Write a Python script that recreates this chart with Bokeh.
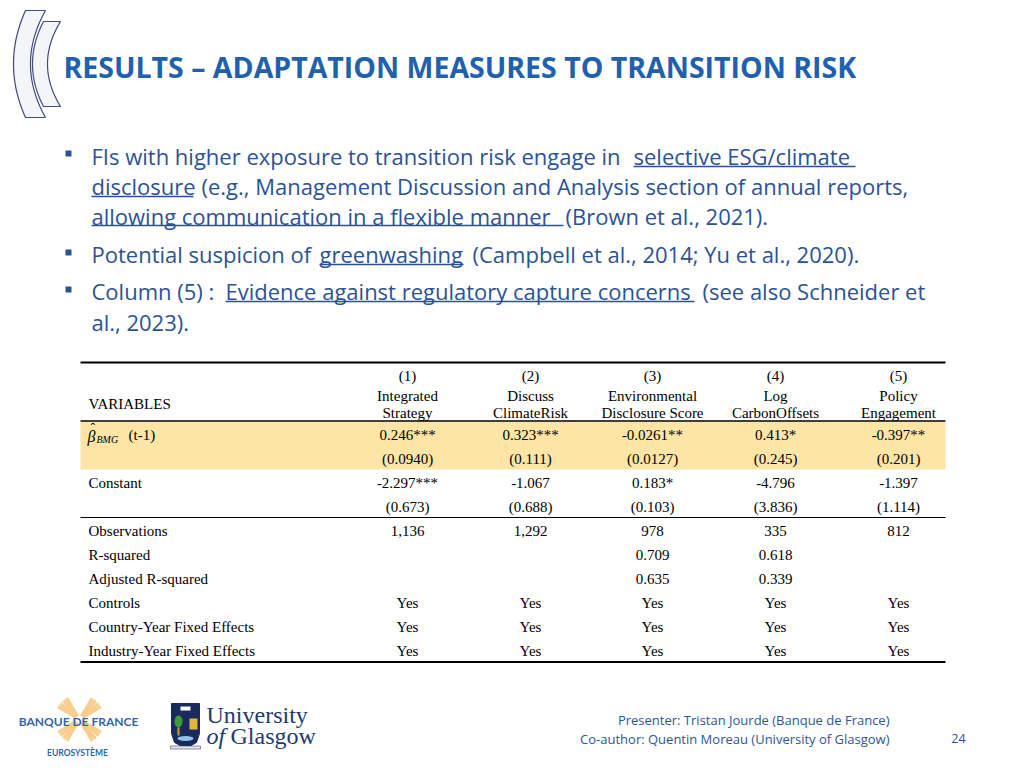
import numpy as np
from bokeh.plotting import figure
from bokeh.models import Range1d
from bokeh.core.properties import value
from bokeh.embed import file_html
from bokeh.resources import INLINE

# ---------------- data ----------------
col_numbers = ["(1)", "(2)", "(3)", "(4)", "(5)"]
col_title_1 = ["Integrated", "Discuss", "Environmental", "Log", "Policy"]
col_title_2 = ["Strategy", "ClimateRisk", "Disclosure Score", "CarbonOffsets", "Engagement"]
beta_coef = ["0.246***", "0.323***", "-0.0261**", "0.413*", "-0.397**"]
beta_se = ["(0.0940)", "(0.111)", "(0.0127)", "(0.245)", "(0.201)"]
const_coef = ["-2.297***", "-1.067", "0.183*", "-4.796", "-1.397"]
const_se = ["(0.673)", "(0.688)", "(0.103)", "(3.836)", "(1.114)"]
observations = ["1,136", "1,292", "978", "335", "812"]
r_squared = ["", "", "0.709", "0.618", ""]
adj_r_squared = ["", "", "0.635", "0.339", ""]
controls = ["Yes", "Yes", "Yes", "Yes", "Yes"]
country_fe = ["Yes", "Yes", "Yes", "Yes", "Yes"]
industry_fe = ["Yes", "Yes", "Yes", "Yes", "Yes"]
row_labels = ["Constant", "Observations", "R-squared", "Adjusted R-squared",
              "Controls", "Country-Year Fixed Effects", "Industry-Year Fixed Effects"]

title_text = "RESULTS \u2013 ADAPTATION MEASURES TO TRANSITION RISK"

# ---------------- layout / style ----------------
COL_X = [407, 530, 652, 775, 898]
TABLE_L, TABLE_R = 80, 945
SERIF = value("Liberation Serif")
SANS = value("Open Sans")
LATO = value("Lato")
TITLE_BLUE = "#2160AC"
BODY_BLUE = "#2C5296"
FOOT_BLUE = "#2F5597"

p = figure(width=1016, height=760, output_backend="svg", toolbar_location=None,
           x_range=Range1d(0, 1016), y_range=Range1d(760, 0),
           min_border=0, min_border_left=0, min_border_right=0,
           min_border_top=0, min_border_bottom=0)
p.axis.visible = False
p.grid.visible = False
p.outline_line_color = None
p.background_fill_color = "white"
p.border_fill_color = "white"


def txt(x, y, t, size, color, font=SANS, align="left", baseline="middle",
        style="normal"):
    if not isinstance(x, (list, tuple)):
        x, y, t = [x], [y], [t]
    p.text(x=x, y=y, text=t, text_font=font, text_font_size=value(f"{size}px"),
           text_color=color, text_align=align, text_baseline=baseline,
           text_font_style=style)


def bezier(p0, c, p2, n=40):
    t = np.linspace(0, 1, n)
    x = (1 - t) ** 2 * p0[0] + 2 * (1 - t) * t * c[0] + t ** 2 * p2[0]
    y = (1 - t) ** 2 * p0[1] + 2 * (1 - t) * t * c[1] + t ** 2 * p2[1]
    return x, y


def crescent(top_o, top_i, bot_o, bot_i, cx_o, cx_i):
    ymid = (top_o[1] + bot_o[1]) / 2
    xo, yo = bezier(top_o, (cx_o, ymid), bot_o)
    xi, yi = bezier(bot_i, (cx_i, ymid), top_i)
    return list(xo) + list(xi), list(yo) + list(yi)


# decorative brackets top-left
xs1, ys1 = crescent((25, 10), (45, 10), (25, 117), (45, 117), 1, 15)
xs2, ys2 = crescent((43, 21), (60, 21), (43, 106), (60, 106), 21, 34)
p.patch(xs1, ys1, fill_color="#F4F5F9", line_color="#3E4C7E", line_width=1.2)
p.patch(xs2, ys2, fill_color="#F4F5F9", line_color="#3E4C7E", line_width=1.2)

# title
txt(63, 66, title_text, 28.5, TITLE_BLUE, style="bold")

# bullets
p.rect(x=[68, 68, 68], y=[153, 252, 289], width=6, height=6,
       fill_color=BODY_BLUE, line_color=None)

FS = 22
segs = [
    (91, 155, "FIs with higher exposure to transition risk engage in"),
    (633, 155, "selective ESG/climate"),
    (91, 185, "disclosure"),
    (201, 185, "(e.g., Management Discussion and Analysis section of annual reports,"),
    (91, 215, "allowing communication in a flexible manner"),
    (565, 215, "(Brown et al., 2021)."),
    (91, 253, "Potential suspicion of"),
    (319, 253, "greenwashing"),
    (472, 253, "(Campbell et al., 2014; Yu et al., 2020)."),
    (91, 290, "Column (5) :"),
    (225, 290, "Evidence against regulatory capture concerns"),
    (702, 290, "(see also Schneider et"),
    (91, 321, "al., 2023)."),
]
txt([s[0] for s in segs], [s[1] for s in segs], [s[2] for s in segs], FS, BODY_BLUE)

underlines = [(633, 855, 166), (91, 193, 196), (91, 563, 225), (319, 463, 264),
              (225, 694, 301)]
p.segment(x0=[u[0] for u in underlines], y0=[u[2] for u in underlines],
          x1=[u[1] for u in underlines], y1=[u[2] for u in underlines],
          line_color=BODY_BLUE, line_width=1.3)

# ---------------- table ----------------
p.quad(left=TABLE_L, right=TABLE_R, top=421, bottom=469,
       fill_color="#FDE5A6", line_color=None)
p.segment(x0=[TABLE_L] * 4, x1=[TABLE_R] * 4, y0=[362, 420.5, 517, 661.5],
          y1=[362, 420.5, 517, 661.5], line_color="black",
          line_width=[1.8, 1.3, 1.0, 1.8])

TS = 15
txt(COL_X, [375] * 5, col_numbers, TS, "black", font=SERIF, align="center")
txt(COL_X, [395] * 5, col_title_1, TS, "black", font=SERIF, align="center")
txt(COL_X, [412] * 5, col_title_2, TS, "black", font=SERIF, align="center")
txt(88, 403, "VARIABLES", TS, "black", font=SERIF)

# beta hat label
txt(87, 436, "\u03b2", 16, "black", font=SERIF, style="italic")
txt(90, 428, "\u02c6", 14, "black", font=SERIF)
txt(96, 439, "BMG", 10, "black", font=SERIF, style="italic")
txt(128, 434, "(t-1)", TS, "black", font=SERIF)

row_y = {"beta": 434, "beta_se": 458, "const": 482, "const_se": 506,
         "obs": 530, "r2": 554, "adj": 578, "ctrl": 602, "cfe": 626, "ife": 650}
for key, vals in [("beta", beta_coef), ("beta_se", beta_se), ("const", const_coef),
                  ("const_se", const_se), ("obs", observations), ("r2", r_squared),
                  ("adj", adj_r_squared), ("ctrl", controls), ("cfe", country_fe),
                  ("ife", industry_fe)]:
    txt(COL_X, [row_y[key]] * 5, vals, TS, "black", font=SERIF, align="center")

txt([88] * 7, [row_y[k] for k in ["const", "obs", "r2", "adj", "ctrl", "cfe", "ife"]],
    row_labels, TS, "black", font=SERIF)

# ---------------- footer ----------------
txt([889, 889], [719, 738],
    ["Presenter: Tristan Jourde (Banque de France)",
     "Co-author: Quentin Moreau (University of Glasgow)"], 13, FOOT_BLUE, align="right")
txt(958, 738, "24", 12.5, FOOT_BLUE, align="center")

# Banque de France logo
cx, cy = 79, 719
angs = []
for base in [45, 135, 225, 315]:
    for d in [-14, -5, 5, 14]:
        angs.append(np.deg2rad(base + d))
r0, r1 = 4, 25
p.segment(x0=[cx + r0 * np.cos(a) for a in angs], y0=[cy + r0 * np.sin(a) for a in angs],
          x1=[cx + r1 * np.cos(a) for a in angs], y1=[cy + r1 * np.sin(a) for a in angs],
          line_color="#F8CD8E", line_width=3.2)
txt(78, 721, "BANQUE DE FRANCE", 12, "#3565A6", font=LATO, align="center", style="bold")
txt(77, 752, "EUROSYST\u00c8ME", 8.5, "#3565A6", font=LATO, align="center", style="bold")

# University of Glasgow logo
sx = [171, 199, 199, 196, 185, 174, 171]
sy = [703, 703, 733, 742, 748, 742, 733]
p.patch(sx, sy, fill_color="#1B2A5C", line_color="#1B2A5C")
p.rect(x=185, y=708, width=10, height=4, fill_color="white", line_color=None)
p.ellipse(x=178, y=721, width=8, height=12, fill_color="#3E9A3A", line_color=None)
p.rect(x=178, y=731, width=2, height=8, fill_color="#C9A227", line_color=None)
p.quad(left=189, right=197, top=718, bottom=729, fill_color="#E3B43A", line_color=None)
p.ellipse(x=185, y=738, width=16, height=5, fill_color="#8EC5E6", line_color=None)
p.rect(x=185, y=747, width=30, height=3, fill_color="#E6E6E6", line_color="#1B2A5C",
       line_width=0.5)
txt(206, 714, "University", 24, "#233A6B", font=SERIF)
txt(206, 735, "of", 24, "#233A6B", font=SERIF, style="italic")
txt(230, 735, "Glasgow", 24, "#233A6B", font=SERIF)

open("out.html", "w").write(file_html(p, INLINE))
